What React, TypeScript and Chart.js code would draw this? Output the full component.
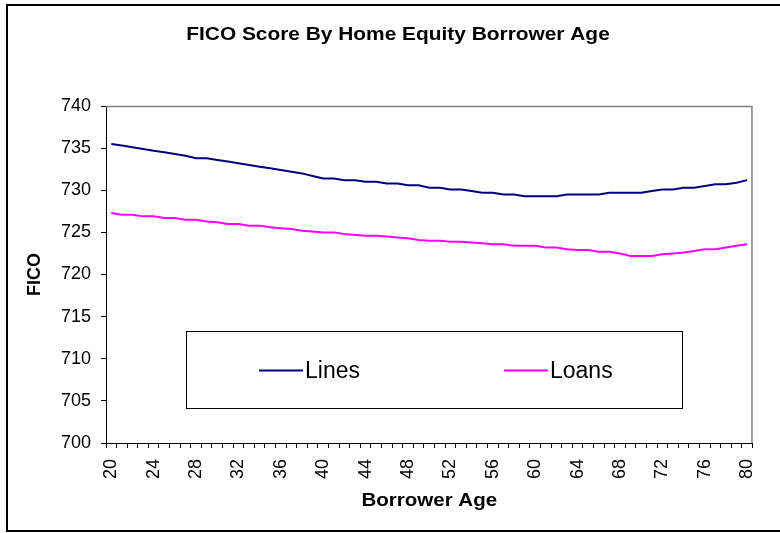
import React, { useEffect, useRef } from 'react';
import { Chart, registerables } from 'chart.js';

Chart.register(...registerables);

const TITLE = 'FICO Score By Home Equity Borrower Age';
const X_TITLE = 'Borrower Age';
const Y_TITLE = 'FICO';

const ages = [
  '20', '21', '22', '23', '24', '25', '26', '27', '28', '29',
  '30', '31', '32', '33', '34', '35', '36', '37', '38', '39',
  '40', '41', '42', '43', '44', '45', '46', '47', '48', '49',
  '50', '51', '52', '53', '54', '55', '56', '57', '58', '59',
  '60', '61', '62', '63', '64', '65', '66', '67', '68', '69',
  '70', '71', '72', '73', '74', '75', '76', '77', '78', '79',
  '80',
];

const linesValues = [
  735.5, 735.3, 735.1, 734.9, 734.7, 734.5, 734.3, 734.1, 733.8, 733.8,
  733.6, 733.4, 733.2, 733.0, 732.8, 732.6, 732.4, 732.2, 732.0, 731.7,
  731.4, 731.4, 731.2, 731.2, 731.0, 731.0, 730.8, 730.8, 730.6, 730.6,
  730.3, 730.3, 730.1, 730.1, 729.9, 729.7, 729.7, 729.5, 729.5, 729.3,
  729.3, 729.3, 729.3, 729.5, 729.5, 729.5, 729.5, 729.7, 729.7, 729.7,
  729.7, 729.9, 730.1, 730.1, 730.3, 730.3, 730.5, 730.7, 730.7, 730.9,
  731.2,
];

const loansValues = [
  727.3, 727.1, 727.1, 726.9, 726.9, 726.7, 726.7, 726.5, 726.5, 726.3,
  726.2, 726.0, 726.0, 725.8, 725.8, 725.6, 725.5, 725.4, 725.2, 725.1,
  725.0, 725.0, 724.8, 724.7, 724.6, 724.6, 724.5, 724.4, 724.3, 724.1,
  724.0, 724.0, 723.9, 723.9, 723.8, 723.7, 723.6, 723.6, 723.4, 723.4,
  723.4, 723.2, 723.2, 723.0, 722.9, 722.9, 722.7, 722.7, 722.5, 722.2,
  722.2, 722.2, 722.4, 722.5, 722.6, 722.8, 723.0, 723.0, 723.2, 723.4,
  723.6,
];

const seriesNames = ['Lines', 'Loans'];
const seriesColors = ['#000080', '#FF00FF'];

const Y_MIN = 700;
const Y_MAX = 740;
const Y_STEP = 5;
const LABEL_EVERY = 4;

const FONT = "'Liberation Sans', Arial, Helvetica, sans-serif";

const decorPlugin = {
  id: 'decor',
  beforeDraw(chart: any) {
    const ctx = chart.ctx;
    ctx.save();
    ctx.fillStyle = '#ffffff';
    ctx.fillRect(0, 0, chart.width, chart.height);
    ctx.strokeStyle = '#000000';
    ctx.lineWidth = 2;
    ctx.strokeRect(7, 5, 820, 526);
    ctx.restore();
  },
  afterDraw(chart: any) {
    const ctx = chart.ctx;
    const ca = chart.chartArea;
    ctx.save();
    // plot frame (top & right)
    ctx.strokeStyle = '#808080';
    ctx.lineWidth = 1.5;
    ctx.beginPath();
    ctx.moveTo(ca.left, ca.top + 0.5);
    ctx.lineTo(ca.right - 0.5, ca.top + 0.5);
    ctx.lineTo(ca.right - 0.5, ca.bottom);
    ctx.stroke();

    ctx.fillStyle = '#000000';
    // title
    ctx.save();
    ctx.font = `bold 18px ${FONT}`;
    ctx.textAlign = 'center';
    ctx.textBaseline = 'alphabetic';
    ctx.translate(398, 40);
    ctx.scale(1.16, 1);
    ctx.fillText(TITLE, 0, 0);
    ctx.restore();

    // x title
    ctx.save();
    ctx.font = `bold 18px ${FONT}`;
    ctx.textAlign = 'center';
    ctx.translate((ca.left + ca.right) / 2, 506);
    ctx.scale(1.14, 1);
    ctx.fillText(X_TITLE, 0, 0);
    ctx.restore();

    // y title
    ctx.save();
    ctx.font = `bold 18px ${FONT}`;
    ctx.textAlign = 'center';
    ctx.textBaseline = 'middle';
    ctx.translate(35, (ca.top + ca.bottom) / 2);
    ctx.rotate(-Math.PI / 2);
    ctx.fillText(Y_TITLE, 0, 0);
    ctx.restore();

    // legend box
    const bx = 186.5, by = 331.5, bw = 496, bh = 77;
    ctx.fillStyle = '#ffffff';
    ctx.fillRect(bx, by, bw, bh);
    ctx.strokeStyle = '#000000';
    ctx.lineWidth = 1;
    ctx.strokeRect(bx, by, bw, bh);
    const itemX = [259, 504];
    const ly = 370.5;
    ctx.font = `23px ${FONT}`;
    ctx.textAlign = 'left';
    ctx.textBaseline = 'alphabetic';
    chart.data.datasets.forEach((ds: any, i: number) => {
      ctx.strokeStyle = ds.borderColor;
      ctx.lineWidth = 2;
      ctx.beginPath();
      ctx.moveTo(itemX[i], ly);
      ctx.lineTo(itemX[i] + 44, ly);
      ctx.stroke();
      ctx.fillStyle = '#000000';
      ctx.fillText(ds.label, itemX[i] + 46, 378);
    });
    ctx.restore();
  },
};

export default function App() {
  const canvasRef = useRef<HTMLCanvasElement | null>(null);

  useEffect(() => {
    if (!canvasRef.current) return;
    const chart = new Chart(canvasRef.current, {
      type: 'line',
      data: {
        labels: ages,
        datasets: [
          {
            label: seriesNames[0],
            data: linesValues,
            borderColor: seriesColors[0],
            backgroundColor: seriesColors[0],
            borderWidth: 2,
            pointRadius: 0,
            tension: 0,
          },
          {
            label: seriesNames[1],
            data: loansValues,
            borderColor: seriesColors[1],
            backgroundColor: seriesColors[1],
            borderWidth: 2,
            pointRadius: 0,
            tension: 0,
          },
        ],
      },
      options: {
        responsive: false,
        animation: false,
        devicePixelRatio: 1,
        layout: { padding: { top: 106, right: 27, bottom: 0, left: 0 } },
        plugins: {
          legend: { display: false },
          title: { display: false },
          tooltip: { enabled: false },
        },
        scales: {
          x: {
            type: 'category',
            offset: true,
            grid: {
              offset: true,
              drawOnChartArea: false,
              drawTicks: true,
              tickLength: 5,
              color: '#000000',
            },
            border: { color: '#000000', width: 1 },
            ticks: {
              autoSkip: false,
              minRotation: 90,
              maxRotation: 90,
              padding: 11,
              color: '#000000',
              font: { family: FONT, size: 18 },
              callback: (_v: any, i: number) => (i % LABEL_EVERY === 0 ? ages[i] : ''),
            },
            afterFit: (s: any) => {
              s.height = 90;
            },
          },
          y: {
            min: Y_MIN,
            max: Y_MAX,
            grid: {
              drawOnChartArea: false,
              drawTicks: true,
              tickLength: 5,
              color: '#000000',
            },
            border: { color: '#000000', width: 1 },
            ticks: {
              stepSize: Y_STEP,
              padding: 10,
              color: '#000000',
              font: { family: FONT, size: 18 },
            },
            afterFit: (s: any) => {
              s.width = 106;
            },
          },
        },
      },
      plugins: [decorPlugin],
    });
    return () => chart.destroy();
  }, []);

  return (
    <div style={{ position: 'fixed', left: 0, top: 0, width: 780, height: 533, background: '#fff' }}>
      <canvas ref={canvasRef} width={780} height={533} />
    </div>
  );
}
